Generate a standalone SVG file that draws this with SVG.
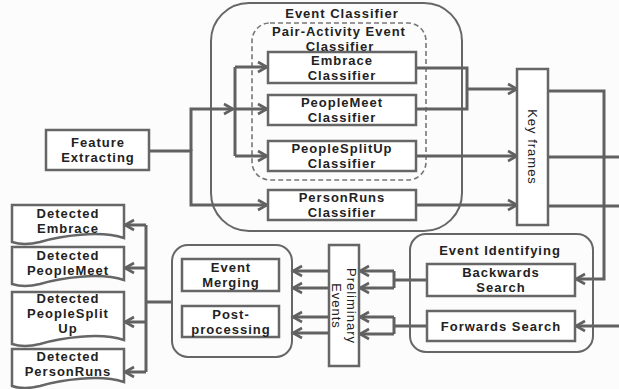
<svg xmlns="http://www.w3.org/2000/svg" width="619" height="389" viewBox="0 0 619 389">
<style>
.bx{fill:#fff;stroke:#666;stroke-width:2.5}
.ct{fill:none;stroke:#666;stroke-width:2}
.ds{fill:none;stroke:#777;stroke-width:1.6;stroke-dasharray:5,3}
.ln{fill:none;stroke:#616161;stroke-width:3}
.t{font-family:"Liberation Sans",Arial,sans-serif;font-weight:bold;font-size:13px;letter-spacing:1px;fill:#222;text-anchor:middle;dominant-baseline:central}
.r{font-weight:normal}
</style>
<defs>
<marker id="ar" markerUnits="userSpaceOnUse" viewBox="0 0 12 12" markerWidth="12" markerHeight="12" refX="10" refY="6" orient="auto" overflow="visible">
<path d="M1,1 L10,6 L1,11" fill="none" stroke="#616161" stroke-width="2.6"/>
</marker>
</defs>
<rect width="619" height="389" fill="#fcfcfc"/>

<g id="event-classifier">
<rect class="ct" x="211" y="3" width="251" height="228" rx="38"/>
<text class="t" x="342" y="13">Event Classifier</text>
</g>
<g id="pair-activity">
<rect class="ds" x="252" y="23" width="174" height="157" rx="18"/>
<text class="t" x="339" y="31.5">Pair-Activity Event</text>
<text class="t" x="340" y="46.5">Classifier</text>
</g>

<g id="connectors">
<path class="ln" d="M149,151 H191 V205 H267" marker-end="url(#ar)"/>
<path class="ln" d="M191,151 V109 H233" marker-end="url(#ar)"/>
<path class="ln" d="M235,67 V156"/>
<path class="ln" d="M235,67 H267" marker-end="url(#ar)"/>
<path class="ln" d="M235,109 H267" marker-end="url(#ar)"/>
<path class="ln" d="M235,156 H267" marker-end="url(#ar)"/>
<path class="ln" d="M416,68 H467 V109 H416"/>
<path class="ln" d="M467,89 H517" marker-end="url(#ar)"/>
<path class="ln" d="M416,156 H517" marker-end="url(#ar)"/>
<path class="ln" d="M416,205 H517" marker-end="url(#ar)"/>
<path class="ln" d="M548,91 H604 V279 H576" marker-end="url(#ar)"/>
<path class="ln" d="M548,157 H619"/>
<path class="ln" d="M548,206 H619"/>
<path class="ln" d="M619,326 H576" marker-end="url(#ar)"/>
<path class="ln" d="M427,280 H394"/>
<path class="ln" d="M394,271 V288"/>
<path class="ln" d="M394,271 H360" marker-end="url(#ar)"/>
<path class="ln" d="M394,288 H360" marker-end="url(#ar)"/>
<path class="ln" d="M427,326 H394"/>
<path class="ln" d="M394,317 V334"/>
<path class="ln" d="M394,317 H360" marker-end="url(#ar)"/>
<path class="ln" d="M394,334 H360" marker-end="url(#ar)"/>
<path class="ln" d="M329,271 H293" marker-end="url(#ar)"/>
<path class="ln" d="M329,288 H293" marker-end="url(#ar)"/>
<path class="ln" d="M329,317 H293" marker-end="url(#ar)"/>
<path class="ln" d="M329,333 H293" marker-end="url(#ar)"/>
<path class="ln" d="M172,302 H146"/>
<path class="ln" d="M146,225 V372"/>
<path class="ln" d="M146,225 H125" marker-end="url(#ar)"/>
<path class="ln" d="M146,268 H125" marker-end="url(#ar)"/>
<path class="ln" d="M146,322 H125" marker-end="url(#ar)"/>
<path class="ln" d="M146,372 H125" marker-end="url(#ar)"/>
</g>

<g id="feature-extracting">
<rect class="bx" x="46" y="130" width="103" height="40"/>
<text class="t" x="98" y="142.5">Feature</text>
<text class="t" x="98" y="157.5">Extracting</text>
</g>
<g id="embrace-classifier">
<rect class="bx" x="268" y="52" width="148" height="31"/>
<text class="t" x="342" y="60">Embrace</text>
<text class="t" x="342" y="75">Classifier</text>
</g>
<g id="peoplemeet-classifier">
<rect class="bx" x="268" y="95" width="148" height="30"/>
<text class="t" x="342" y="102.5">PeopleMeet</text>
<text class="t" x="342" y="117.5">Classifier</text>
</g>
<g id="peoplesplitup-classifier">
<rect class="bx" x="268" y="141" width="148" height="30"/>
<text class="t" x="342" y="148.5">PeopleSplitUp</text>
<text class="t" x="342" y="163.5">Classifier</text>
</g>
<g id="personruns-classifier">
<rect class="bx" x="268" y="190" width="148" height="30"/>
<text class="t" x="342" y="197.5">PersonRuns</text>
<text class="t" x="342" y="212.5">Classifier</text>
</g>
<g id="key-frames">
<rect class="bx" x="517" y="69" width="31" height="156"/>
<text class="t r" transform="translate(532,147) rotate(90)" x="0" y="0">Key frames</text>
</g>
<g id="event-identifying">
<rect class="ct" x="410" y="234" width="183" height="118" rx="16"/>
<text class="t" x="500" y="250">Event Identifying</text>
</g>
<g id="backwards-search">
<rect class="bx" x="427" y="264" width="148" height="32"/>
<text class="t" x="501" y="272.5">Backwards</text>
<text class="t" x="501" y="287.5">Search</text>
</g>
<g id="forwards-search">
<rect class="bx" x="427" y="311" width="148" height="30"/>
<text class="t" x="501" y="326">Forwards Search</text>
</g>
<g id="preliminary-events">
<rect class="bx" x="329" y="245" width="30" height="121"/>
<g transform="translate(344,306) rotate(90)">
<text class="t r" x="0" y="-7.5">Preliminary</text>
<text class="t r" x="0" y="7.5">Events</text>
</g>
</g>
<g id="merging-group">
<rect class="ct" x="172" y="245" width="120" height="112" rx="16"/>
</g>
<g id="event-merging">
<rect class="bx" x="182" y="259" width="97" height="32"/>
<text class="t" x="231" y="267.5">Event</text>
<text class="t" x="231" y="282.5">Merging</text>
</g>
<g id="post-processing">
<rect class="bx" x="182" y="306" width="97" height="31"/>
<text class="t" x="231" y="314">Post-</text>
<text class="t" x="231" y="329">processing</text>
</g>
<g id="detected-embrace">
<path class="bx" d="M12,205 H124 V238 C100,230 60,236 40,242 C28,245 18,244 12,242 Z"/>
<text class="t" x="68" y="213.5">Detected</text>
<text class="t" x="68" y="228.5">Embrace</text>
</g>
<g id="detected-peoplemeet">
<path class="bx" d="M12,247 H124 V280 C100,272 60,278 40,284 C28,287 18,286 12,284 Z"/>
<text class="t" x="68" y="255.5">Detected</text>
<text class="t" x="68" y="270.5">PeopleMeet</text>
</g>
<g id="detected-peoplesplitup">
<path class="bx" d="M12,292 H124 V340 C100,332 60,338 40,344 C28,347 18,346 12,344 Z"/>
<text class="t" x="68" y="298.5">Detected</text>
<text class="t" x="68" y="313.5">PeopleSplit</text>
<text class="t" x="68" y="328.5">Up</text>
</g>
<g id="detected-personruns">
<path class="bx" d="M12,349 H124 V382 C100,374 60,380 40,386 C28,389 18,388 12,386 Z"/>
<text class="t" x="68" y="356">Detected</text>
<text class="t" x="68" y="371">PersonRuns</text>
</g>
</svg>
